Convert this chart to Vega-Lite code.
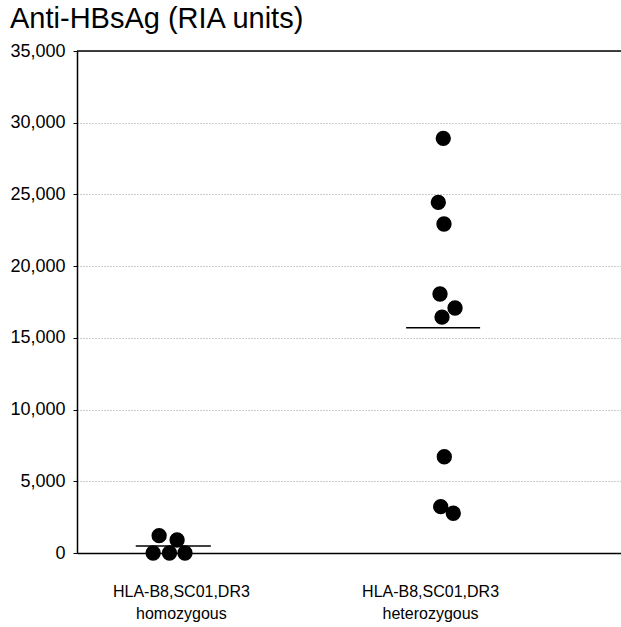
{
  "$schema": "https://vega.github.io/schema/vega-lite/v6.json",
  "width": 544,
  "height": 502,
  "autosize": {"type": "none"},
  "padding": {"left": 77, "top": 51, "right": 0, "bottom": 74},
  "background": "white",
  "title": {
    "text": "Anti-HBsAg (RIA units)",
    "anchor": "start",
    "frame": "group",
    "dx": -67,
    "offset": -15,
    "baseline": "alphabetic",
    "font": "Liberation Sans",
    "fontSize": 29,
    "fontWeight": "normal",
    "color": "black"
  },
  "config": {
    "view": {"stroke": null},
    "axis": {
      "labelFont": "Liberation Sans",
      "labelColor": "black",
      "domainColor": "black",
      "tickColor": "black"
    }
  },
  "datasets": {
    "points": [
      {"group": "homozygous", "pos": 14.0, "value": 0},
      {"group": "homozygous", "pos": 15.1, "value": 1206},
      {"group": "homozygous", "pos": 17.0, "value": 0},
      {"group": "homozygous", "pos": 18.4, "value": 906},
      {"group": "homozygous", "pos": 19.85, "value": 0},
      {"group": "heterozygous", "pos": 67.33, "value": 28910},
      {"group": "heterozygous", "pos": 66.42, "value": 24450},
      {"group": "heterozygous", "pos": 67.46, "value": 22940},
      {"group": "heterozygous", "pos": 66.73, "value": 18060},
      {"group": "heterozygous", "pos": 69.49, "value": 17080},
      {"group": "heterozygous", "pos": 67.1, "value": 16450},
      {"group": "heterozygous", "pos": 67.52, "value": 6710},
      {"group": "heterozygous", "pos": 66.86, "value": 3230},
      {"group": "heterozygous", "pos": 69.17, "value": 2770}
    ],
    "means": [
      {"group": "homozygous", "x1": 10.8, "x2": 24.6, "value": 488},
      {"group": "heterozygous", "x1": 60.5, "x2": 74.1, "value": 15700}
    ],
    "frame": [
      {"value": 35000}
    ]
  },
  "layer": [
    {
      "data": {"name": "points"},
      "mark": {"type": "circle", "size": 235, "color": "black", "opacity": 1},
      "encoding": {
        "x": {
          "field": "pos",
          "type": "quantitative",
          "scale": {"domain": [0, 100], "nice": false},
          "axis": {
            "values": [19.1, 64.9],
            "labelExpr": "datum.value < 40 ? ['HLA-B8,SC01,DR3', 'homozygous'] : ['HLA-B8,SC01,DR3', 'heterozygous']",
            "title": null,
            "grid": false,
            "ticks": false,
            "labelFontSize": 16,
            "labelPadding": 30,
            "labelBaseline": "top",
            "labelLineHeight": 22,
            "labelFlush": false,
            "domainWidth": 1.5
          }
        },
        "y": {
          "field": "value",
          "type": "quantitative",
          "scale": {"domain": [0, 35000], "nice": false},
          "axis": {
            "values": [0, 2500, 5000, 7500, 10000, 12500, 15000, 17500, 20000, 22500, 25000, 27500, 30000, 32500, 35000],
            "labelExpr": "datum.value % 5000 === 0 ? format(datum.value, ',') : ''",
            "title": null,
            "grid": true,
            "gridDash": [1, 2],
            "gridColor": "#999999",
            "gridOpacity": {"condition": {"test": "datum.value % 5000 === 0", "value": 1}, "value": 0},
            "tickSize": {"condition": {"test": "datum.value % 5000 === 0", "value": 4}, "value": -5},
            "labelFontSize": 18,
            "labelPadding": 8,
            "domainWidth": 1.5,
            "labelFlush": false
          }
        }
      }
    },
    {
      "data": {"name": "means"},
      "mark": {"type": "rule", "color": "black", "strokeWidth": 1.5},
      "encoding": {
        "x": {"field": "x1", "type": "quantitative"},
        "x2": {"field": "x2"},
        "y": {"field": "value", "type": "quantitative"}
      }
    },
    {
      "data": {"name": "frame"},
      "mark": {"type": "rule", "color": "black", "strokeWidth": 1.5},
      "encoding": {
        "y": {"field": "value", "type": "quantitative"}
      }
    }
  ]
}
